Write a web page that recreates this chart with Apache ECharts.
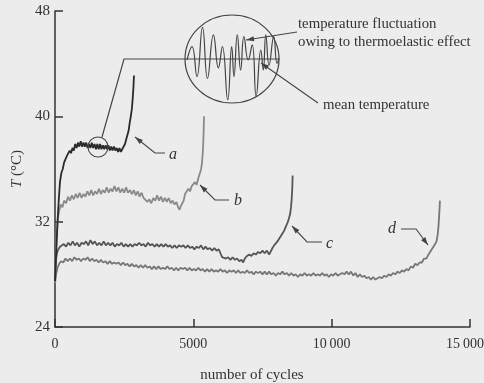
<!DOCTYPE html>
<html><head><meta charset="utf-8">
<script src="https://cdn.jsdelivr.net/npm/echarts@6/dist/echarts.min.js"></script>
<style>html,body{margin:0;padding:0;background:#ececec}#c{width:484px;height:383px}</style>
</head><body><div id="c"></div>
<script>
// ---- data (cycles, temperature °C) ----
const xTicks = [0, 5000, 10000, 15000];
const yTicks = [24, 32, 40, 48];
const curveA = [[0,27.5],[30,29.0],[60,30.5],[100,32.3],[140,33.8],[180,35.0],[230,35.7],[280,36.0],[330,36.5],[380,36.6],[430,37.0],[480,36.9],[530,37.4],[580,37.2],[630,37.6],[680,37.4],[730,37.9],[780,37.6],[830,38.0],[880,37.7],[930,38.1],[980,37.7],[1030,38.0],[1080,37.7],[1130,38.0],[1180,37.6],[1230,37.9],[1280,37.6],[1330,38.0],[1380,37.6],[1430,37.9],[1480,37.5],[1530,37.9],[1580,37.5],[1630,37.9],[1680,37.5],[1730,37.8],[1780,37.5],[1830,37.8],[1880,37.5],[1930,37.8],[1980,37.4],[2030,37.7],[2080,37.4],[2130,37.7],[2180,37.4],[2230,37.6],[2280,37.3],[2330,37.6],[2380,37.3],[2430,37.5],[2480,37.5],[2530,37.9],[2580,38.3],[2620,38.6],[2660,38.9],[2700,39.5],[2740,40.0],[2780,40.6],[2810,41.4],[2835,42.2],[2855,43.1]];
const curveB = [[0,27.8],[30,29.5],[60,31.0],[100,32.2],[150,32.8],[210,33.3],[270,33.1],[330,33.6],[400,33.4],[470,33.9],[540,33.6],[610,34.0],[680,33.7],[750,34.1],[820,33.8],[890,34.2],[960,33.8],[1030,34.1],[1100,33.9],[1170,34.3],[1240,34.0],[1310,34.4],[1380,34.0],[1450,34.3],[1520,34.1],[1590,34.5],[1660,34.1],[1730,34.4],[1800,34.2],[1870,34.6],[1940,34.2],[2010,34.5],[2080,34.3],[2150,34.7],[2220,34.3],[2290,34.6],[2360,34.2],[2430,34.5],[2500,34.2],[2570,34.6],[2640,34.2],[2710,34.4],[2780,34.1],[2850,34.4],[2920,34.0],[2990,34.3],[3060,33.9],[3130,34.2],[3200,33.8],[3270,33.9],[3340,33.5],[3410,33.7],[3480,33.4],[3550,33.8],[3620,33.6],[3690,34.0],[3760,33.6],[3830,33.9],[3900,33.5],[3970,33.8],[4040,33.5],[4110,33.8],[4180,33.4],[4250,33.6],[4320,33.3],[4390,33.5],[4450,33.1],[4500,32.9],[4550,33.2],[4600,33.4],[4650,33.6],[4700,34.1],[4760,34.0],[4820,34.5],[4880,34.3],[4940,34.7],[5000,34.6],[5060,35.0],[5120,34.8],[5180,35.3],[5230,35.4],[5270,35.9],[5310,36.4],[5340,37.2],[5360,38.0],[5375,39.0],[5385,40.0]];
const curveC = [[0,28.0],[30,29.0],[70,29.6],[120,29.9],[180,30.1],[250,30.0],[320,30.3],[400,30.1],[480,30.4],[560,30.2],[640,30.5],[720,30.2],[800,30.4],[880,30.1],[960,30.4],[1040,30.3],[1120,30.5],[1200,30.2],[1280,30.6],[1360,30.3],[1440,30.5],[1520,30.2],[1600,30.4],[1680,30.2],[1760,30.5],[1840,30.2],[1920,30.4],[2000,30.2],[2080,30.4],[2160,30.1],[2240,30.3],[2320,30.2],[2400,30.4],[2480,30.1],[2560,30.3],[2640,30.1],[2720,30.3],[2800,30.1],[2880,30.3],[2960,30.2],[3040,30.4],[3120,30.2],[3200,30.3],[3280,30.1],[3360,30.4],[3440,30.2],[3520,30.3],[3600,30.1],[3680,30.3],[3760,30.1],[3840,30.3],[3920,30.1],[4000,30.3],[4080,30.1],[4160,30.2],[4240,30.0],[4320,30.2],[4400,30.0],[4480,30.2],[4560,30.1],[4640,30.2],[4720,30.0],[4800,30.2],[4880,30.0],[4960,30.1],[5040,29.9],[5120,30.1],[5200,30.0],[5280,30.2],[5360,29.9],[5440,30.1],[5520,29.9],[5600,30.0],[5680,29.8],[5760,30.0],[5840,29.8],[5920,29.9],[5980,29.6],[6040,29.3],[6100,29.4],[6180,29.2],[6260,29.3],[6340,29.1],[6420,29.3],[6500,29.1],[6580,29.2],[6660,29.0],[6740,29.1],[6800,28.9],[6860,29.2],[6940,29.4],[7020,29.5],[7100,29.4],[7180,29.6],[7260,29.5],[7340,29.7],[7420,29.6],[7500,29.8],[7580,29.6],[7660,29.8],[7740,29.5],[7800,29.6],[7860,30.0],[7920,30.2],[7980,30.3],[8040,30.5],[8100,30.7],[8160,30.9],[8220,31.1],[8280,31.3],[8340,31.6],[8400,31.9],[8450,32.2],[8500,32.6],[8530,33.1],[8555,33.7],[8575,34.5],[8590,35.5]];
const curveD = [[0,27.3],[40,28.0],[90,28.5],[150,28.8],[220,29.0],[300,28.9],[380,29.2],[460,29.0],[540,29.2],[620,29.0],[700,29.3],[780,29.1],[860,29.2],[940,29.0],[1020,29.2],[1100,29.1],[1180,29.3],[1260,29.0],[1340,29.2],[1420,29.0],[1500,29.1],[1580,28.9],[1660,29.1],[1740,28.9],[1820,29.0],[1900,28.8],[1980,29.0],[2060,28.8],[2140,28.9],[2220,28.8],[2300,28.9],[2380,28.7],[2460,28.9],[2540,28.7],[2620,28.8],[2700,28.6],[2780,28.8],[2860,28.6],[2940,28.7],[3020,28.5],[3100,28.7],[3180,28.5],[3260,28.7],[3340,28.5],[3420,28.6],[3500,28.4],[3580,28.6],[3660,28.4],[3740,28.6],[3820,28.4],[3900,28.5],[3980,28.4],[4060,28.6],[4140,28.4],[4220,28.5],[4300,28.3],[4380,28.5],[4460,28.3],[4540,28.5],[4620,28.4],[4700,28.5],[4780,28.3],[4860,28.5],[4940,28.3],[5020,28.4],[5100,28.3],[5180,28.5],[5260,28.3],[5340,28.4],[5420,28.2],[5500,28.4],[5580,28.2],[5660,28.4],[5740,28.2],[5820,28.3],[5900,28.2],[5980,28.4],[6060,28.2],[6140,28.3],[6220,28.1],[6300,28.3],[6380,28.2],[6460,28.3],[6540,28.1],[6620,28.3],[6700,28.1],[6780,28.2],[6860,28.1],[6940,28.3],[7020,28.1],[7100,28.2],[7180,28.0],[7260,28.2],[7340,28.1],[7420,28.2],[7500,28.0],[7580,28.2],[7660,28.0],[7740,28.2],[7820,28.0],[7900,28.1],[7980,27.9],[8060,28.1],[8140,28.0],[8220,28.2],[8300,28.0],[8380,28.1],[8460,27.9],[8540,28.1],[8620,27.9],[8700,28.0],[8780,27.8],[8860,28.0],[8940,27.9],[9020,28.1],[9100,27.9],[9180,28.0],[9260,27.9],[9340,28.1],[9420,27.9],[9500,28.0],[9580,27.9],[9660,28.1],[9740,27.9],[9820,28.0],[9900,27.8],[9980,28.0],[10060,27.9],[10140,28.1],[10220,27.9],[10300,28.0],[10380,28.1],[10460,28.0],[10540,28.2],[10620,28.0],[10700,28.2],[10780,27.9],[10860,28.1],[10940,27.8],[11020,28.0],[11100,27.8],[11180,27.9],[11260,27.7],[11340,27.8],[11420,27.6],[11500,27.8],[11580,27.6],[11660,27.7],[11740,27.8],[11820,27.7],[11900,27.9],[11980,27.8],[12060,28.0],[12140,27.9],[12220,28.1],[12300,28.0],[12380,28.2],[12460,28.1],[12540,28.3],[12620,28.2],[12700,28.4],[12780,28.3],[12860,28.6],[12940,28.5],[13020,28.8],[13100,28.7],[13180,28.9],[13260,28.9],[13340,29.2],[13420,29.2],[13500,29.5],[13560,29.6],[13620,29.9],[13680,30.0],[13740,30.3],[13790,30.5],[13830,31.0],[13860,31.6],[13880,32.3],[13900,33.0],[13914,33.6]];
// schematic inset: fluctuation about the mean (arbitrary units)
const waveT = [0,5,10,15.6,20.6,26.6,31.6,35.6,41,45,47.3,50.6,54,57.3,61.6,65.6,69.6,74.3,76.8,79.3,82.6,87.3,90.6,92.6];
const waveV = [-0.02,0.28,-0.4,0.72,-0.44,0.55,-0.2,0.28,-0.93,0.28,-0.4,0.55,-0.25,0.51,-0.02,0.32,-0.85,0.2,-0.25,0.55,-0.14,0.51,-0.1,0.02];
const curveLabels = ['a','b','c','d'];

const FONT = 'Liberation Serif';
const INK = '#333';
const chart = echarts.init(document.getElementById('c'));

function fmt(v){
  const s = v >= 10000 ? String(v).replace(/(\d+)(\d{3})$/, '$1\u2009$2') : String(v);
  return v === xTicks[xTicks.length-1] ? '{r|' + s + '}' : s;
}
function arrow(pts, color){
  const els = [{type:'polyline', shape:{points:pts}, style:{stroke:color, lineWidth:1.1, fill:null}, z:10}];
  const [x2,y2] = pts[pts.length-1], [x1,y1] = pts[pts.length-2];
  const dx=x2-x1, dy=y2-y1, L=Math.hypot(dx,dy), ux=dx/L, uy=dy/L, len=8, w=2.6;
  const bx=x2-ux*len, by=y2-uy*len;
  els.push({type:'polygon', shape:{points:[[x2,y2],[bx-uy*w,by+ux*w],[bx+uy*w,by-ux*w]]}, style:{fill:color}, z:10});
  return els;
}
function txt(x,y,s,opt){ return Object.assign({type:'text', x:x, y:y, z:10, style:Object.assign({text:s, fill:INK, font:'15px "'+FONT+'"', textVerticalAlign:'middle'}, opt||{})}); }
const ANN = '14.8px "'+FONT+'"';

const graphic = [].concat(
  [{type:'circle', shape:{cx:98, cy:147, r:10}, style:{fill:null, stroke:'#444', lineWidth:1.1}, z:10},
   {type:'polyline', shape:{points:[[102,137],[124,59],[279,59]]}, style:{stroke:'#444', lineWidth:1.2, fill:null}, z:10},
   {type:'ellipse', shape:{cx:232, cy:59, rx:47, ry:44}, style:{fill:null, stroke:'#444', lineWidth:1.2}, z:10}],
  arrow([[297,32],[246,40]], '#444'),
  arrow([[318,103],[261,63]], '#444'),
  [txt(298,24,'temperature fluctuation',{font:ANN}),
   txt(298,42,'owing to thermoelastic effect',{font:ANN}),
   txt(323,105,'mean temperature',{font:ANN})],
  arrow([[165,153],[155,153],[135,137]], '#444'),
  arrow([[229,200],[215,200],[200,185]], '#444'),
  arrow([[322,242],[307,242],[292,226]], '#444'),
  arrow([[401,229],[416,229],[428,245]], '#444'),
  [txt(169,155,curveLabels[0],{font:'italic 16px "'+FONT+'"'}),
   txt(234,201,curveLabels[1],{font:'italic 16px "'+FONT+'"'}),
   txt(326,244,curveLabels[2],{font:'italic 16px "'+FONT+'"'}),
   txt(388,229,curveLabels[3],{font:'italic 16px "'+FONT+'"'}),
   txt(252,375,'number of cycles',{font:'15px "'+FONT+'"', textAlign:'center'})]
);

const axisCommon = {
  axisLine:{show:true, lineStyle:{color:INK, width:1.5}},
  axisTick:{show:true, inside:true, length:8, lineStyle:{color:INK, width:1.5}},
  splitLine:{show:false},
  axisLabel:{color:INK, fontFamily:FONT, fontSize:15}
};

const option = {
  backgroundColor:'#ececec',
  animation:false,
  grid:[{left:55, right:14, top:11, bottom:56, containLabel:false, outerBoundsMode:'none'},
        {left:187, top:15, width:92, height:88, containLabel:false, outerBoundsMode:'none'}],
  xAxis:[Object.assign({type:'value', min:xTicks[0], max:xTicks[xTicks.length-1], interval:xTicks[1]-xTicks[0], gridIndex:0}, axisCommon, {
           axisLabel:Object.assign({}, axisCommon.axisLabel, {margin:10, fontSize:14, formatter:fmt,
             rich:{r:{fontFamily:FONT, fontSize:14, color:INK, padding:[0,10,0,0]}}})}),
         {type:'value', gridIndex:1, min:0, max:92.6, show:false}],
  yAxis:[Object.assign({type:'value', min:yTicks[0], max:yTicks[yTicks.length-1], interval:yTicks[1]-yTicks[0], gridIndex:0}, axisCommon, {
           axisLabel:Object.assign({}, axisCommon.axisLabel, {margin:5}),
           name:'{i|T} (°C)', nameLocation:'middle', nameGap:30, nameRotate:90,
           nameTextStyle:{color:INK, fontFamily:FONT, fontSize:15, rich:{i:{fontStyle:'italic', fontFamily:FONT, fontSize:15, color:INK}}}}),
         {type:'value', gridIndex:1, min:-1, max:1, show:false}],
  series:[
    {type:'line', data:curveD, showSymbol:false, lineStyle:{color:'#777', width:1.8}, z:2},
    {type:'line', data:curveC, showSymbol:false, lineStyle:{color:'#555', width:1.8}, z:3},
    {type:'line', data:curveB, showSymbol:false, lineStyle:{color:'#8a8a8a', width:1.8}, z:4},
    {type:'line', data:curveA, showSymbol:false, lineStyle:{color:'#2a2a2a', width:1.8}, z:5},
    {type:'line', xAxisIndex:1, yAxisIndex:1, data:waveT.map((t,i)=>[t,waveV[i]]), showSymbol:false, smooth:0.5, lineStyle:{color:'#444', width:1.2}, z:6}
  ],
  graphic: graphic
};
chart.setOption(option);
</script></body></html>
